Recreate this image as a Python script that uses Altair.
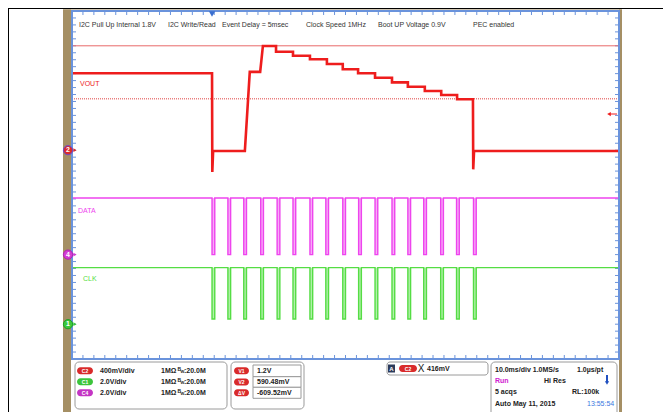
import altair as alt
import pandas as pd

FONT = "Liberation Sans"
W, H = 547, 348          # plot area of the scope screen (px)
T_MAX = 100.0            # 10 ms/div x 10 div
N_DIV = 10

# ---- channel set-up (ground position in divisions, volts per division) ----
VOUT_GND, VOUT_VDIV = 6, 0.4
DATA_GND, DATA_VDIV = 3, 2.0
CLK_GND, CLK_VDIV = 1, 2.0

# ---- VOUT trace (time in ms, volts) ----
vout_t = [0, 25.6, 25.65, 25.8, 31.6, 32.5, 34.4, 34.9,
          37.3, 37.3, 40.4, 40.4, 43.5, 43.5, 46.6, 46.6, 49.5, 49.5,
          52.3, 52.3, 55.4, 55.4, 58.5, 58.5, 61.4, 61.4, 64.5, 64.5,
          67.5, 67.5, 70.4, 70.4, 73.3, 73.35, 73.5, 100]
vout_v = [0.885, 0.885, -0.25, -0.01, -0.01, 0.90, 0.90, 1.198,
          1.198, 1.132, 1.132, 1.086, 1.086, 1.045, 1.045, 0.991, 0.991, 0.930,
          0.930, 0.884, 0.884, 0.833, 0.833, 0.780, 0.780, 0.730, 0.730, 0.680,
          0.680, 0.634, 0.634, 0.585, 0.585, -0.22, -0.01, -0.01]

# ---- I2C bus activity (pulse start times, ms) ----
pulse_t = [25.6, 28.5, 31.4, 34.5, 37.5, 40.4, 43.5, 46.4, 49.5, 52.4,
           55.4, 58.5, 61.4, 64.3, 67.4, 70.3, 73.4]
pulse_w = 0.5
data_high, data_low = 3.25, 0.0
clk_high, clk_low = 3.25, 0.3

# ---- cursors / trigger ----
cursor_v1 = 1.2
cursor_v2 = 0.59048
trigger_level = 0.416
trigger_t = 25.6

# ---- texts ----
top_texts = ["I2C Pull Up Internal 1.8V", "I2C Write/Read", "Event Delay = 5msec",
             "Clock Speed 1MHz", "Boot UP Voltage 0.9V", "PEC enabled"]
top_text_x = [7, 96, 150, 234, 306, 401]

ch_names = ["C2", "C1", "C4"]
ch_scale = ["400mV/div", "2.0V/div", "2.0V/div"]
ch_colors = ["#d92b2b", "#3cc43c", "#c435c4"]
cur_names = ["V1", "V2", "ΔV"]
cur_vals = ["1.2V", "590.48mV", "-609.52mV"]

RED = "#ee1d1d"
MAG = "#ee44ee"
GRN = "#55dd44"
BLUE = "#6a93dc"
TAN = "#a58f64"

dummy = pd.DataFrame({"a": [0]})


def to_div(v, gnd, vdiv):
    return gnd + v / vdiv


def pulses(high, low):
    t, v = [0.0], [high]
    for p in pulse_t:
        t += [p, p, p + pulse_w, p + pulse_w]
        v += [high, low, low, high]
    t.append(T_MAX)
    v.append(high)
    return t, v


xs = alt.Scale(domain=[0, T_MAX], nice=False, zero=False)
ys = alt.Scale(domain=[0, N_DIV], nice=False, zero=False)
xaxis = alt.Axis(values=list(range(0, 101, 10)), grid=True, gridDash=[1, 3],
                 gridColor="#b8b8b8", gridWidth=1, labels=False, ticks=False,
                 domain=False, title=None)
yaxis = alt.Axis(values=list(range(0, 11)), grid=True, gridDash=[1, 3],
                 gridColor="#b8b8b8", gridWidth=1, labels=False, ticks=False,
                 domain=False, title=None)


def txt(x, y, s, color="#222222", size=7, weight="bold", align="left", dy=0):
    return alt.Chart(dummy).mark_text(text=s, align=align, baseline="middle",
                                      fontSize=size, fontWeight=weight,
                                      color=color, font=FONT, dy=dy).encode(
        x=alt.value(x), y=alt.value(y))


def rect(x1, y1, x2, y2, fill, stroke=None, sw=0, r=0):
    kw = dict(fill=fill, cornerRadius=r)
    if stroke:
        kw.update(stroke=stroke, strokeWidth=sw)
    return alt.Chart(dummy).mark_rect(**kw).encode(
        x=alt.value(x1), x2=alt.value(x2), y=alt.value(y1), y2=alt.value(y2))


def rule(x1, y1, x2, y2, color, sw=1, dash=None):
    kw = dict(color=color, strokeWidth=sw)
    if dash:
        kw["strokeDash"] = dash
    return alt.Chart(dummy).mark_rule(**kw).encode(
        x=alt.value(x1), x2=alt.value(x2), y=alt.value(y1), y2=alt.value(y2))


layers = []

# frame
layers.append(rule(-64, -2.5, 591, -2.5, "#000000", 1))
layers.append(rule(-63.5, -3, -63.5, 402, "#000000", 1))
layers.append(rect(-9, -1.5, -1, 402, TAN))
layers.append(rect(547, -1.5, 550, 402, TAN))
layers.append(rect(-9, -1.5, 550, 0, TAN))

# grid carrier + VOUT
vout_df = pd.DataFrame({"t": vout_t,
                        "div": [to_div(v, VOUT_GND, VOUT_VDIV) for v in vout_v],
                        "i": range(len(vout_t))})

# minor ticks
tick_t = pd.DataFrame({"t": [k * 2.0 for k in range(1, 50)]})
tick_d = pd.DataFrame({"div": [k * 0.2 for k in range(1, 50)]})
layers.append(alt.Chart(tick_t).mark_rule(color=BLUE, strokeWidth=1).encode(
    x=alt.X("t:Q", scale=xs, axis=xaxis), y=alt.value(0), y2=alt.value(4)))
layers.append(alt.Chart(tick_t).mark_rule(color=BLUE, strokeWidth=1).encode(
    x=alt.X("t:Q", scale=xs, axis=None), y=alt.value(H - 4), y2=alt.value(H)))
layers.append(alt.Chart(tick_d).mark_rule(color=BLUE, strokeWidth=1).encode(
    y=alt.Y("div:Q", scale=ys, axis=yaxis), x=alt.value(0), x2=alt.value(4)))
layers.append(alt.Chart(tick_d).mark_rule(color=BLUE, strokeWidth=1).encode(
    y=alt.Y("div:Q", scale=ys, axis=None), x=alt.value(W - 4), x2=alt.value(W)))

# cursors
layers.append(alt.Chart(dummy).mark_rule(color="#e86a6a", strokeWidth=1).encode(
    y=alt.datum(to_div(cursor_v1, VOUT_GND, VOUT_VDIV)), x=alt.value(0), x2=alt.value(W)))
layers.append(alt.Chart(dummy).mark_rule(color="#e04040", strokeWidth=1, strokeDash=[1, 1]).encode(
    y=alt.datum(to_div(cursor_v2, VOUT_GND, VOUT_VDIV)), x=alt.value(0), x2=alt.value(W)))

# DATA
dt, dv = pulses(data_high, data_low)
data_df = pd.DataFrame({"t": dt, "div": [to_div(v, DATA_GND, DATA_VDIV) for v in dv],
                        "i": range(len(dt))})
pulse_df = pd.DataFrame({"t": pulse_t, "t2": [p + pulse_w for p in pulse_t]})
layers.append(alt.Chart(pulse_df).mark_rect(color=MAG, opacity=0.45).encode(
    x=alt.X("t:Q", scale=xs, axis=None), x2="t2:Q",
    y=alt.datum(to_div(data_high, DATA_GND, DATA_VDIV)),
    y2=alt.datum(to_div(data_low, DATA_GND, DATA_VDIV))))
layers.append(alt.Chart(data_df).mark_line(color=MAG, strokeWidth=1.4).encode(
    x=alt.X("t:Q", scale=xs, axis=None), y=alt.Y("div:Q", scale=ys, axis=None),
    order="i:Q"))

# CLK
ct, cv = pulses(clk_high, clk_low)
clk_df = pd.DataFrame({"t": ct, "div": [to_div(v, CLK_GND, CLK_VDIV) for v in cv],
                       "i": range(len(ct))})
layers.append(alt.Chart(pulse_df).mark_rect(color=GRN, opacity=0.45).encode(
    x=alt.X("t:Q", scale=xs, axis=None), x2="t2:Q",
    y=alt.datum(to_div(clk_high, CLK_GND, CLK_VDIV)),
    y2=alt.datum(to_div(clk_low, CLK_GND, CLK_VDIV))))
layers.append(alt.Chart(clk_df).mark_line(color=GRN, strokeWidth=1.4).encode(
    x=alt.X("t:Q", scale=xs, axis=None), y=alt.Y("div:Q", scale=ys, axis=None),
    order="i:Q"))

# VOUT on top
layers.append(alt.Chart(vout_df).mark_line(color=RED, strokeWidth=2.6).encode(
    x=alt.X("t:Q", scale=xs, axis=None), y=alt.Y("div:Q", scale=ys, axis=None),
    order="i:Q"))

# border of plot area
layers.append(rect(0, 0, W, H, "transparent", BLUE, 2))

# trace labels
layers.append(txt(8, 73, "VOUT", RED, 7, "normal"))
layers.append(txt(6, 200, "DATA", MAG, 7, "normal"))
layers.append(txt(11, 268, "CLK", GRN, 7, "normal"))

# top annotation row
for s, x in zip(top_texts, top_text_x):
    layers.append(txt(x, 14, s, "#333333", 7, "normal"))

# trigger position marker (top) and trigger level (right)
layers.append(alt.Chart(dummy).mark_point(shape="triangle-down", filled=True, size=40,
                                          color="#3a6fd0", opacity=1).encode(
    x=alt.datum(trigger_t), y=alt.value(3)))
layers.append(alt.Chart(dummy).mark_point(shape="triangle-left", filled=True, size=18,
                                          color=RED, opacity=1).encode(
    x=alt.value(537), y=alt.datum(to_div(trigger_level, VOUT_GND, VOUT_VDIV))))
layers.append(alt.Chart(dummy).mark_rule(color=RED, strokeWidth=1).encode(
    x=alt.value(538), x2=alt.value(545),
    y=alt.datum(to_div(trigger_level, VOUT_GND, VOUT_VDIV))))

# ground markers on the left
for gnd, col, ring, lab in [(VOUT_GND, "#d92b2b", "#6a4ad0", "2"),
                            (DATA_GND, "#d43cd4", "#b020b0", "4"),
                            (CLK_GND, "#3cc83c", "#20a020", "1")]:
    layers.append(alt.Chart(dummy).mark_point(shape="triangle-right", filled=True, size=14,
                                              color=col, opacity=1).encode(
        x=alt.value(3), y=alt.datum(gnd)))
    layers.append(alt.Chart(dummy).mark_circle(size=85, color=col, opacity=1,
                                               stroke=ring, strokeWidth=1).encode(
        x=alt.value(-4), y=alt.datum(gnd)))
    layers.append(alt.Chart(dummy).mark_text(text=lab, fontSize=7, fontWeight="bold",
                                             color="white", font=FONT, align="center",
                                             baseline="middle").encode(
        x=alt.value(-4), y=alt.datum(gnd)))

# ---- bottom info panels ----
rows_y = [359.7, 370.7, 381.7]
layers.append(rect(3, 351, 155, 398, "white", "#9a9a9a", 1, 4))
for name, sc, col, y in zip(ch_names, ch_scale, ch_colors, rows_y):
    layers.append(rect(5, y - 3.5, 21, y + 3.5, col, None, 0, 3.5))
    layers.append(txt(13, y, name, "white", 5, "bold", "center"))
    layers.append(txt(28, y, sc))
    layers.append(txt(89, y, "1MΩ"))
    layers.append(txt(105.5, y, "B", size=5, dy=-1.5))
    layers.append(txt(108.5, y, "W", size=4, dy=1.5))
    layers.append(txt(112, y, ":20.0M"))

layers.append(rect(159, 351, 232, 398, "white", "#9a9a9a", 1, 4))
box_y = [(354, 365.7), (365.7, 376.3), (376.3, 387.3)]
for name, val, (b1, b2) in zip(cur_names, cur_vals, box_y):
    yc = (b1 + b2) / 2
    layers.append(rect(162, yc - 3.5, 177, yc + 3.5, "#d92b2b", None, 0, 3.5))
    layers.append(txt(169.5, yc, name, "white", 5, "bold", "center"))
    layers.append(rect(181, b1, 229, b2, "white", "#9a9a9a", 1))
    layers.append(txt(185, yc, val))

layers.append(rect(315, 351, 416, 364, "white", "#9a9a9a", 1, 3))
layers.append(rect(316, 353.5, 323, 361.5, "#2c3a5a"))
layers.append(txt(319.5, 357.5, "A", "white", 6, "bold", "center"))
layers.append(rect(327, 354, 345, 361, "#d92b2b", None, 0, 3.5))
layers.append(txt(336, 357.5, "C2", "white", 5, "bold", "center"))
layers.append(txt(349, 357.5, "X", "#222222", 10, "normal", "center"))
layers.append(txt(355, 357.5, "416mV"))

layers.append(rect(419, 351, 545, 406, "white", "#9a9a9a", 1, 4))
layers.append(txt(423, 358.5, "10.0ms/div 1.0MS/s"))
layers.append(txt(505, 358.5, "1.0µs/pt"))
layers.append(txt(423, 370, "Run", "#d020d0"))
layers.append(txt(472, 370, "Hi Res"))
layers.append(rule(535, 364, 535, 371, "#2050c0", 2))
layers.append(alt.Chart(dummy).mark_point(shape="triangle-down", filled=True, size=18,
                                          color="#2050c0", opacity=1).encode(
    x=alt.value(535), y=alt.value(372)))
layers.append(txt(423, 381, "5 acqs"))
layers.append(txt(500, 381, "RL:100k"))
layers.append(txt(423, 392.7, "Auto    May 11, 2015"))
layers.append(txt(515, 392.7, "13:55:54", "#3a78e0", 7, "normal"))

chart = alt.layer(*layers).properties(
    width=W, height=H,
    padding={"left": 64, "top": 3, "right": 44, "bottom": 53},
    autosize=alt.AutoSizeParams(type="none"),
    background="white",
).configure_view(stroke=None, fill="white")

chart.save("out.html", embed_options={"renderer": "svg", "actions": False})
